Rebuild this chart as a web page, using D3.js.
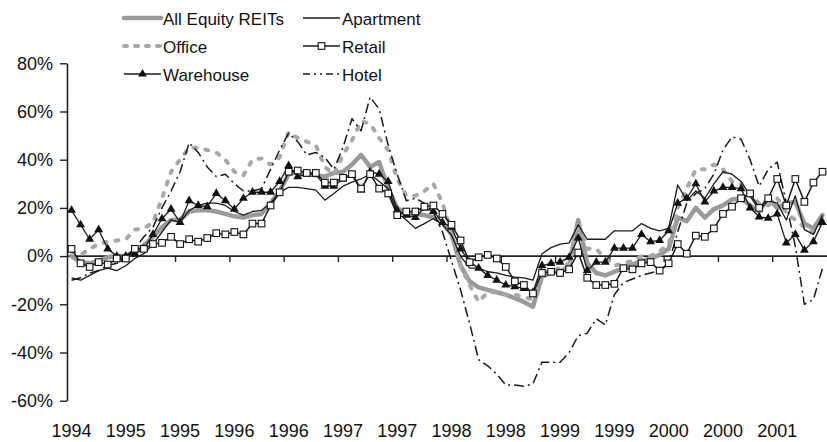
<!DOCTYPE html>
<html>
<head>
<meta charset="utf-8">
<script src="https://cdn.jsdelivr.net/npm/d3@7"></script>
<style>
  html, body { margin: 0; padding: 0; background: #fff; }
  svg { display: block; }
  text { font-family: "Liberation Sans", Arial, Helvetica, sans-serif; fill: #111; }
  .legend text { font-family: "Liberation Sans Narrow", "Arial Narrow", "Liberation Sans", Arial, sans-serif; font-stretch: condensed; }
</style>
</head>
<body>
<svg id="chart" width="827" height="442"></svg>
<script>
// Year labels, one every six monthly periods
const tickLabels = ["1994", "1995", "1995", "1996", "1996", "1997", "1997",
                    "1998", "1998", "1999", "1999", "2000", "2000", "2001"];

// Rolling returns by property sector (%), one value per monthly period
const allEquity = [
  0, -2.5, -3, -2, -0.5, 0, 0, 2, 4.5, 8, 12, 15,
  15, 18.5, 19, 19, 18.5, 17.5, 16.5, 16, 17, 17.5, 22, 27,
  34, 35, 34, 33.5, 33, 34.5, 35, 38, 42, 37, 39, 28,
  20, 17.5, 17.5, 17, 16, 14, 9, -4, -10.5, -13, -14, -15,
  -16, -17.5, -19, -21, -8.5, -7, -6.6, -4, 15, -3, -7, -8,
  -6.5, -5, -3.5, -2, -1, 0.5, 3, 16, 14.5, 20, 16, 19.5,
  21, 23.5, 24, 21, 18.5, 24, 20, 22, 22.5, 13.5, 11.5, 17
];
const office = [
  2, 0.5, 3, 5, 6, 6.5, 7, 11, 11.5, 14, 24, 35,
  40, 45, 45, 44, 43, 40, 35, 33.5, 40, 40.5, 38, 41,
  51.5, 49, 47.5, 46, 37, 34, 42, 48, 56, 55, 49, 44,
  32, 25, 25, 27, 30, 22, 10, -4, -12, -19, -15, -15,
  -16, -16, -17, -18, -7, -6, -5, -3, 14, 3, 3, -1,
  -4, -3, -2, 0, 0, 2, 5, 20, 28, 36, 36, 38,
  36, 31, 30, 25, 22, 21, 24, 18, 15, 12, 10, 15
];
const warehouse = [
  19, 13, 7, 11, 3, 0, 0, 1, 3, 9, 15.5, 19.5,
  14, 23, 21, 20.5, 26, 23, 19.5, 24, 26.5, 26.5, 26.5, 31,
  37.5, 33, 34, 34, 29, 29, 32, 33.5, 27.5, 35, 34, 31,
  19, 17, 16, 20, 18.5, 14, 12, 3, -2.5, -5, -8, -10,
  -12, -12.7, -13.4, -15, -4, -3, -2.5, -0.5, 7.5, -6, -2.5, -2.5,
  3.3, 3.3, 3.3, 9, 6, 6.5, 10.5, 22, 24, 30, 22.5, 27,
  28.5, 28.5, 28, 20, 16.3, 15.7, 17.5, 5.5, 9, 2.5, 6, 14
];
const apartment = [
  -9, -10, -8, -6, -5, -6, -4, -1, 1, 5, 10, 15,
  14, 19, 21, 22, 22, 21, 18.5, 17, 18.5, 19, 22, 26.5,
  28.5, 28.5, 28, 27.4, 23.2, 26, 29, 30.7, 32, 34, 31, 28,
  18, 15, 11.5, 13.5, 15.6, 13, 8.7, 0, -5, -5, -6.5, -7,
  -8, -8.7, -9, -10, 1, 3.5, 5, 5.5, 13, 7, 7, 7,
  10.5, 10.5, 10.5, 13.5, 11.5, 10.5, 11.5, 29.5, 23, 27, 24, 30,
  35, 34, 31, 25, 19, 23, 22, 15, 25, 11, 9, 17
];
const retail = [
  3, -3, -4.5, -2.5, -3.5, -1, -1, 3, 3, 5, 5.5, 8,
  5, 7, 6, 7.5, 9.5, 9, 10, 9, 13.5, 13.5, 21, 26.5,
  35, 35.5, 34.5, 34.5, 30.5, 30.5, 32.5, 34, 28, 34, 28, 26,
  17, 18.5, 18.5, 20.5, 21, 17.5, 13, 6.5, -2.5, -0.5, 0.5, -1,
  -4.5, -10.5, -12, -15.5, -7, -6.5, -7, -5.5, 1.5, -9, -12, -12,
  -11.5, -5, -5.5, -3, -2.5, -6, -3, 5, 1, 8.5, 8, 11.5,
  17.5, 20.5, 24, 26, 20, 24, 32, 21, 32, 22.5, 30.5, 35
];
const hotel = [
  -10, -9, -7, -6, -4, -3, 0, 3, 8, 12, 20, 27,
  35, 47, 43, 37, 33, 34, 30, 27, 27, 28, 36, 44,
  51, 47.5, 42, 43, 41, 36, 45, 57, 52, 66, 61, 46,
  34, 23, 24, 22, 18, 10, -2, -14, -28, -43, -45.5, -49,
  -53.5, -53.5, -54, -53, -44, -44, -44, -40, -33, -32, -26, -28.6,
  -16, -11, -9.5, -8, -7, -6, -3, 10, 22, 26, 28, 34,
  44, 49.5, 48.5, 40, 29, 36, 39, 22, 4, -20, -18, -5
];

const periods = allEquity.map((_, i) => i);
const yTicks = [-60, -40, -20, 0, 20, 40, 60, 80];

const svg = d3.select("#chart");

const x = d3.scaleBand().domain(periods).range([67, 827]).padding(0);
const y = d3.scaleLinear().domain([-60, 80]).range([400.7, 63.3]);
const cx = i => x(i) + x.bandwidth() / 2;

// Series definitions: drawing order puts the wide grey lines underneath
const series = [
  { name: "All Equity REITs", values: allEquity, stroke: "#9a9a9a", width: 4.5, dash: null, cap: "round", marker: null },
  { name: "Office", values: office, stroke: "#a8a8a8", width: 4, dash: "3,9", cap: "round", marker: null },
  { name: "Apartment", values: apartment, stroke: "#1a1a1a", width: 1.3, dash: null, cap: "butt", marker: null },
  { name: "Warehouse", values: warehouse, stroke: "#1a1a1a", width: 1.3, dash: null, cap: "butt", marker: "triangle" },
  { name: "Retail", values: retail, stroke: "#1a1a1a", width: 1.5, dash: null, cap: "butt", marker: "square" },
  { name: "Hotel", values: hotel, stroke: "#1a1a1a", width: 1.5, dash: "10,4,2,4", cap: "butt", marker: null }
];

// Y axis
const yAxis = d3.axisLeft(y)
  .tickValues(yTicks)
  .tickFormat(d => d + "%")
  .tickSize(7)
  .tickSizeOuter(0)
  .tickPadding(7);
const gy = svg.append("g").attr("transform", "translate(67,0)").call(yAxis);
gy.select(".domain").attr("stroke", "#222").attr("stroke-width", 1.6);
gy.selectAll(".tick line").attr("stroke", "#222").attr("stroke-width", 1.4);
gy.selectAll(".tick text").attr("font-size", 18).attr("fill", "#111")
  .style("font-family", '"Liberation Sans", Arial, sans-serif');

// Zero line with period ticks
const gx = svg.append("g");
gx.append("line")
  .attr("x1", 67).attr("x2", 827)
  .attr("y1", y(0)).attr("y2", y(0))
  .attr("stroke", "#222").attr("stroke-width", 1.6);
gx.selectAll("line.tk")
  .data(tickLabels.map((_, k) => k * 6).filter(i => i > 0))
  .join("line")
  .attr("class", "tk")
  .attr("x1", i => x(i)).attr("x2", i => x(i))
  .attr("y1", y(0)).attr("y2", y(0) + 6)
  .attr("stroke", "#222").attr("stroke-width", 1.4);

// Year labels along the bottom
svg.append("g").selectAll("text")
  .data(tickLabels)
  .join("text")
  .attr("x", (d, k) => cx(k * 6))
  .attr("y", 437)
  .attr("text-anchor", "middle")
  .attr("font-size", 18)
  .text(d => d);

// Lines
const line = d3.line().x((d, i) => cx(i)).y(d => y(d));
const plot = svg.append("g");
series.forEach(s => {
  plot.append("path")
    .datum(s.values)
    .attr("fill", "none")
    .attr("stroke", s.stroke)
    .attr("stroke-width", s.width)
    .attr("stroke-dasharray", s.dash)
    .attr("stroke-linecap", s.cap)
    .attr("stroke-linejoin", "round")
    .attr("d", line);
});

// Markers
const tri = d3.symbol().type(d3.symbolTriangle).size(34);
plot.append("g").selectAll("path")
  .data(warehouse)
  .join("path")
  .attr("d", tri)
  .attr("transform", (d, i) => `translate(${cx(i)},${y(d)})`)
  .attr("fill", "#111");
plot.append("g").selectAll("rect")
  .data(retail)
  .join("rect")
  .attr("x", (d, i) => cx(i) - 3.3)
  .attr("y", d => y(d) - 3.3)
  .attr("width", 6.6).attr("height", 6.6)
  .attr("fill", "#fff").attr("stroke", "#111").attr("stroke-width", 1.1);

// Legend: two columns of three entries
const legendPos = {
  "All Equity REITs": [124, 18], "Office": [124, 46], "Warehouse": [124, 74],
  "Apartment": [303, 18], "Retail": [303, 46], "Hotel": [303, 74]
};
const lg = svg.append("g").attr("class", "legend");
series.forEach(s => {
  const [lx, ly] = legendPos[s.name];
  const g = lg.append("g").attr("transform", `translate(${lx},${ly})`);
  g.append("line")
    .attr("x1", 0).attr("x2", 37).attr("y1", 0).attr("y2", 0)
    .attr("stroke", s.stroke)
    .attr("stroke-width", s.width)
    .attr("stroke-dasharray", s.name === "Office" ? "3,8" : (s.name === "Hotel" ? "7,4,2,4,2,4" : s.dash))
    .attr("stroke-linecap", s.cap);
  if (s.marker === "triangle") {
    g.append("path").attr("d", tri).attr("transform", "translate(18.5,0)").attr("fill", "#111");
  }
  if (s.marker === "square") {
    g.append("rect").attr("x", 15.2).attr("y", -3.3).attr("width", 6.6).attr("height", 6.6)
      .attr("fill", "#fff").attr("stroke", "#111").attr("stroke-width", 1.1);
  }
  g.append("text")
    .attr("x", 39).attr("y", 6.5)
    .attr("font-size", 17)
    .text(s.name);
});
</script>
</body>
</html>
